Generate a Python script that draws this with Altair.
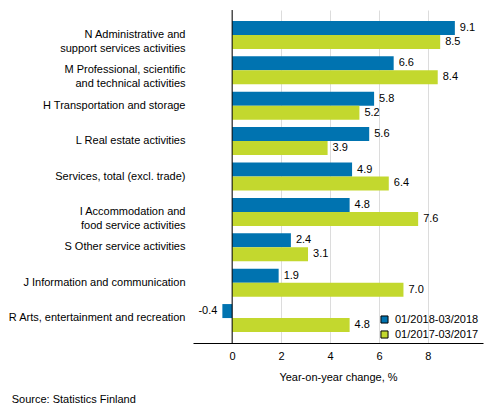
import altair as alt
import pandas as pd

categories = [
    "N Administrative and |support services activities",
    "M Professional, scientific |and technical activities",
    "H Transportation and storage",
    "L Real estate activities",
    "Services, total (excl. trade)",
    "I Accommodation and |food service activities",
    "S Other service activities",
    "J Information and communication",
    "R Arts, entertainment and recreation",
]
series = ["01/2018-03/2018", "01/2017-03/2017"]
v2018 = [9.1, 6.6, 5.8, 5.6, 4.9, 4.8, 2.4, 1.9, -0.4]
v2017 = [8.5, 8.4, 5.2, 3.9, 6.4, 7.6, 3.1, 7.0, 4.8]
colors = ["#0073b0", "#c3d82e"]
x_ticks = [0, 2, 4, 6, 8]

rows = []
for c, a, b in zip(categories, v2018, v2017):
    rows.append({"category": c, "series": series[0], "value": a})
    rows.append({"category": c, "series": series[1], "value": b})
df = pd.DataFrame(rows)

FONT = "Liberation Sans"

y_enc = alt.Y(
    "category:N",
    sort=categories,
    scale=alt.Scale(paddingInner=0.21, paddingOuter=0.31),
    axis=alt.Axis(
        title=None, domain=False, ticks=False, grid=False,
        labelPadding=8, labelFontSize=11, labelColor="#000000",
        labelLimit=300, labelLineHeight=14, labelFont=FONT,
        labelExpr="split(datum.label, '|')",
    ),
)
yoff = alt.YOffset("series:N", sort=series,
                   scale=alt.Scale(paddingInner=0, paddingOuter=0))
x_scale = alt.Scale(domain=[-1.6, 10.25], nice=False, zero=False)

base = alt.Chart(df)

bars = base.mark_bar(size=14).encode(
    y=y_enc,
    yOffset=yoff,
    x=alt.X(
        "value:Q", scale=x_scale,
        axis=alt.Axis(
            values=x_ticks, format="d", title="Year-on-year change, %",
            domain=True, domainColor="#000000", domainWidth=1,
            ticks=False, grid=True, gridColor="#dcdcdc", gridWidth=1,
            labelFontSize=11, labelColor="#000000", labelPadding=7,
            labelFont=FONT, titleFont=FONT,
            titleFontSize=11, titleFontWeight="normal", titleColor="#000000",
            titlePadding=10,
        ),
    ),
    color=alt.Color(
        "series:N", sort=series,
        scale=alt.Scale(domain=series, range=colors),
        legend=alt.Legend(
            title=None, orient="none", legendX=186, legendY=304,
            symbolType="square", symbolSize=50, symbolStrokeColor="#000000",
            symbolStrokeWidth=1, symbolOpacity=1,
            labelFontSize=11, labelFont=FONT, labelColor="#000000",
            rowPadding=2, labelOffset=5,
        ),
    ),
)

label_calc = "replace(format(datum.value, '.1f'), '\u2212', '-')"

pos_labels = base.transform_filter("datum.value >= 0").transform_calculate(
    lbl=label_calc
).mark_text(align="left", baseline="middle", dx=5, fontSize=11, font=FONT,
            color="#000000").encode(
    y=y_enc, yOffset=yoff, x=alt.X("value:Q", scale=x_scale), text="lbl:N"
)
neg_labels = base.transform_filter("datum.value < 0").transform_calculate(
    lbl=label_calc
).mark_text(align="right", baseline="middle", dx=-5, fontSize=11, font=FONT,
            color="#000000").encode(
    y=y_enc, yOffset=yoff, x=alt.X("value:Q", scale=x_scale), text="lbl:N"
)

zero_rule = alt.Chart(pd.DataFrame({"z": [0]})).mark_rule(
    color="#000000", strokeWidth=1
).encode(x=alt.X("z:Q", scale=x_scale))

chart = alt.layer(bars, pos_labels, neg_labels, zero_rule).properties(
    width=290, height=333,
    autosize=alt.AutoSizeParams(type="none"),
    padding={"left": 185, "top": 2, "right": 2, "bottom": 72},
    title=alt.TitleParams(
        "Source: Statistics Finland", orient="bottom", anchor="start",
        offset=12, dx=4, fontSize=11, fontWeight="normal", font=FONT,
        color="#000000",
    ),
).configure_view(stroke=None)

chart.save("out.html", embed_options={"renderer": "svg", "actions": False})
